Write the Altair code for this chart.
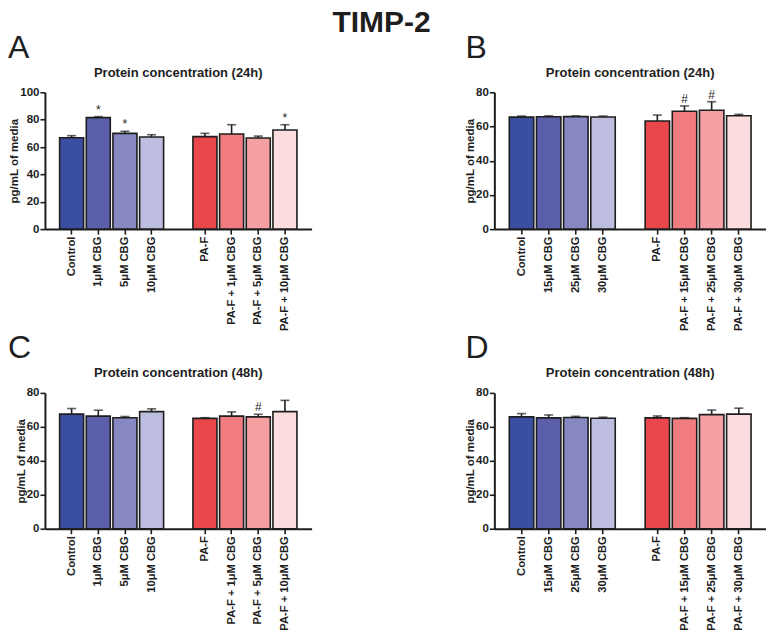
import altair as alt
import pandas as pd

FONT = "Liberation Sans"

# ---------------- data ----------------
main_title = "TIMP-2"

cats_A = ["Control", "1μM CBG", "5μM CBG", "10μM CBG",
          "PA-F", "PA-F + 1μM CBG", "PA-F + 5μM CBG", "PA-F + 10μM CBG"]
vals_A = [66.8, 81.5, 70.0, 67.3, 67.6, 69.5, 66.6, 72.4]
errs_A = [68.3, 82.2, 71.5, 69.0, 70.0, 76.3, 68.0, 76.3]
sigs_A = ["", "*", "*", "", "", "", "", "*"]

cats_B = ["Control", "15μM CBG", "25μM CBG", "30μM CBG",
          "PA-F", "PA-F + 15μM CBG", "PA-F + 25μM CBG", "PA-F + 30μM CBG"]
vals_B = [65.5, 65.7, 65.8, 65.6, 63.2, 68.9, 69.5, 66.3]
errs_B = [66.1, 66.2, 66.2, 66.1, 66.7, 72.0, 74.5, 67.1]
sigs_B = ["", "", "", "", "", "#", "#", ""]

cats_C = cats_A
vals_C = [67.5, 66.3, 65.4, 69.0, 65.0, 66.3, 65.9, 69.0]
errs_C = [70.8, 69.8, 66.1, 70.6, 65.4, 68.8, 67.4, 75.6]
sigs_C = ["", "", "", "", "", "", "#", ""]

cats_D = cats_B
vals_D = [65.9, 65.3, 65.5, 65.1, 65.3, 65.0, 67.2, 67.5]
errs_D = [67.8, 67.0, 66.2, 65.7, 66.4, 65.4, 69.9, 71.0]
sigs_D = ["", "", "", "", "", "", "", ""]

palette = ["#3a4fa1", "#5a5eab", "#8788c1", "#bdbde0",
           "#e9474b", "#f17c7f", "#f5a0a3", "#fbdde0"]


def text_layer(txt, x, y, **kw):
    return alt.Chart(pd.DataFrame({"t": [txt]})).mark_text(
        font=FONT, color="#1e1e1e", baseline="alphabetic", **kw).encode(
        x=alt.value(x), y=alt.value(y), text="t:N")


def panel(cats, vals, errs, sigs, ymax, letter, title, width, height,
          letter_dx, letter_dy, title_dy, extra=None):
    df = pd.DataFrame({"group": cats, "value": vals, "err": errs, "sig": sigs})
    domain = cats[:4] + ["gap"] + cats[4:]
    x = alt.X("group:N",
              scale=alt.Scale(domain=domain, paddingInner=0.1, paddingOuter=0.55),
              axis=alt.Axis(values=cats, title=None, labelAngle=-90,
                            labelFontSize=11.2, labelPadding=2))
    yscale = alt.Scale(domain=[0, ymax], nice=False)
    yaxis = alt.Axis(values=list(range(0, ymax + 1, 20)),
                     title="pg/mL of media", titlePadding=0,
                     labelPadding=1, labelOverlap=False)

    def Y(field):
        return alt.Y(field, type="quantitative", scale=yscale, axis=yaxis)

    base = alt.Chart(df)
    bars = base.mark_bar(stroke="#1e1e1e", strokeWidth=1.6).encode(
        x=x, y=Y("value"),
        color=alt.Color("group:N", scale=alt.Scale(domain=cats, range=palette),
                        legend=None),
    )
    rule = base.mark_rule(color="#1e1e1e", strokeWidth=1.6).encode(
        x=x, y=Y("value"), y2="err:Q")
    cap = base.mark_tick(color="#1e1e1e", thickness=1.6, size=9,
                         orient="horizontal").encode(x=x, y=Y("err"))
    sig = base.mark_text(font=FONT, fontSize=12, baseline="alphabetic",
                         dy=-3, color="#1e1e1e").encode(
        x=x, y=Y("err"), text="sig:N")
    lab = text_layer(letter, letter_dx, letter_dy, fontSize=32, align="left")
    ttl = text_layer(title, width / 2, title_dy, fontSize=13,
                     fontWeight="bold", align="center")
    layers = [bars, rule, cap, sig, lab, ttl]
    if extra is not None:
        layers.append(extra)
    return alt.layer(*layers).properties(width=width, height=height)


big = text_layer(main_title, 337, -60, fontSize=30, fontWeight="bold",
                 align="center")

pA = panel(cats_A, vals_A, errs_A, sigs_A, 100, "A",
           "Protein concentration (24h)", 267, 137, -37, -34, -15, extra=big)
pB = panel(cats_B, vals_B, errs_B, sigs_B, 80, "B",
           "Protein concentration (24h)", 272, 137, -29, -34, -15)
pC = panel(cats_C, vals_C, errs_C, sigs_C, 80, "C",
           "Protein concentration (48h)", 267, 136, -37, -35, -16)
pD = panel(cats_D, vals_D, errs_D, sigs_D, 80, "D",
           "Protein concentration (48h)", 272, 136, -29, -35, -16)

chart = alt.concat(
    pA, pB, pC, pD, columns=2,
    spacing={"row": 164, "column": 183}, bounds="flush",
).resolve_scale(
    color="independent", x="independent", y="independent"
).properties(
    padding=0,
).configure_view(stroke=None).configure_axis(
    labelFont=FONT, titleFont=FONT, labelFontWeight="bold",
    titleFontWeight="bold", labelFontSize=11.5, titleFontSize=11.5,
    labelColor="#1e1e1e", titleColor="#1e1e1e",
    domainColor="#1e1e1e", domainWidth=2, tickColor="#1e1e1e",
    tickWidth=1.6, tickSize=5, grid=False,
)

chart.save("out.html", embed_options={"renderer": "svg", "actions": False})
